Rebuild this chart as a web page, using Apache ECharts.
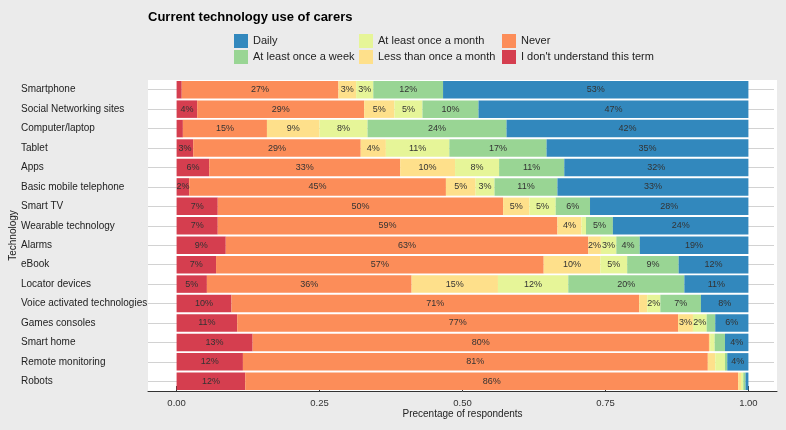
<!DOCTYPE html>
<html>
<head>
<meta charset="utf-8">
<script src="https://cdn.jsdelivr.net/npm/echarts@6/dist/echarts.min.js"></script>
<style>
html,body{margin:0;padding:0;background:#ebebeb;}
#c{width:786px;height:430px;}
</style>
</head>
<body>
<div id="c"></div>
<script>
var categories = ["Smartphone","Social Networking sites","Computer/laptop","Tablet","Apps","Basic mobile telephone","Smart TV","Wearable technology","Alarms","eBook","Locator devices","Voice activated technologies","Games consoles","Smart home","Remote monitoring","Robots"];
var dontUnderstand = [0.009,0.036,0.011,0.029,0.057,0.022,0.072,0.072,0.086,0.069,0.053,0.096,0.106,0.133,0.116,0.120];
var never          = [0.274,0.292,0.147,0.293,0.334,0.449,0.499,0.594,0.634,0.573,0.358,0.713,0.771,0.798,0.813,0.862];
var lessMonth      = [0.031,0.053,0.092,0.044,0.096,0.052,0.046,0.042,0.022,0.099,0.151,0.014,0.026,0.002,0.013,0.005];
var onceMonth      = [0.030,0.049,0.084,0.111,0.077,0.033,0.046,0.008,0.027,0.047,0.123,0.023,0.024,0.008,0.017,0.004];
var onceWeek       = [0.122,0.098,0.243,0.170,0.114,0.110,0.060,0.047,0.041,0.090,0.203,0.071,0.015,0.018,0.004,0.004];
var daily          = [0.534,0.472,0.423,0.353,0.322,0.334,0.277,0.237,0.190,0.122,0.112,0.083,0.058,0.041,0.037,0.005];
var xTicks = [0, 0.25, 0.5, 0.75, 1];

var seriesDefs = [
  {name: "I don't understand this term", data: dontUnderstand, color: '#D53E4F'},
  {name: 'Never', data: never, color: '#FC8D59'},
  {name: 'Less than once a month', data: lessMonth, color: '#FEE08B'},
  {name: 'At least once a month', data: onceMonth, color: '#E6F598'},
  {name: 'At least once a week', data: onceWeek, color: '#99D594'},
  {name: 'Daily', data: daily, color: '#3288BD'}
];

var FONT = '"Liberation Sans", Arial, sans-serif';

var chart = echarts.init(document.getElementById('c'), null, {renderer: 'canvas'});

var legendBase = {
  orient: 'vertical', top: 34, padding: 0, itemWidth: 14, itemHeight: 14, itemGap: 2,
  icon: 'rect', selectedMode: false,
  textStyle: {fontFamily: FONT, fontSize: 11, color: '#222'}
};

chart.setOption({
  backgroundColor: '#ebebeb',
  animation: false,
  title: {
    text: 'Current technology use of carers',
    left: 148, top: 11, padding: 0,
    textStyle: {fontFamily: FONT, fontSize: 13, fontWeight: 'bold', color: '#000'}
  },
  legend: [
    Object.assign({}, legendBase, {left: 234, data: ['Daily', 'At least once a week']}),
    Object.assign({}, legendBase, {left: 359, data: ['At least once a month', 'Less than once a month']}),
    Object.assign({}, legendBase, {left: 502, data: ['Never', "I don't understand this term"]})
  ],
  grid: {
    left: 148, top: 80, width: 629, height: 311,
    containLabel: false, outerBoundsMode: 'none',
    show: true, backgroundColor: '#ffffff', borderWidth: 0
  },
  xAxis: {
    type: 'value', min: -0.05, max: 1.05,
    name: 'Precentage of respondents', nameLocation: 'middle', nameGap: 18, nameMoveOverlap: false,
    nameTextStyle: {fontFamily: FONT, fontSize: 10, color: '#222', verticalAlign: 'top'},
    axisLine: {show: true, lineStyle: {color: '#333', width: 1}},
    axisTick: {show: true, inside: true, length: 5, customValues: xTicks, lineStyle: {color: '#333'}},
    axisLabel: {customValues: xTicks, margin: 7, fontFamily: FONT, fontSize: 9.5, color: '#333',
      formatter: function (v) { return v.toFixed(2); }},
    splitLine: {show: false}
  },
  yAxis: {
    type: 'category', data: categories, inverse: true,
    name: 'Technology', nameLocation: 'middle', nameGap: 130, nameMoveOverlap: false,
    nameTextStyle: {fontFamily: FONT, fontSize: 10, color: '#222'},
    axisLine: {show: false, onZero: false},
    axisTick: {show: true, inside: true, alignWithLabel: true, interval: 0, length: 626,
      lineStyle: {color: '#d2d2d2', width: 1.2}},
    axisLabel: {interval: 0, align: 'left', margin: 127, fontFamily: FONT, fontSize: 10, color: '#222',
      padding: [2, 0, 0, 0]},
    splitLine: {show: false}
  },
  series: seriesDefs.map(function (s) {
    return {
      name: s.name, type: 'bar', stack: 'total', data: s.data,
      barCategoryGap: '10%',
      itemStyle: {color: s.color},
      label: {
        show: true, position: 'inside', fontFamily: FONT, fontSize: 9, color: '#333',
        formatter: function (p) { return p.value >= 0.02 ? Math.round(p.value * 100) + '%' : ''; }
      }
    };
  })
});
</script>
</body>
</html>
